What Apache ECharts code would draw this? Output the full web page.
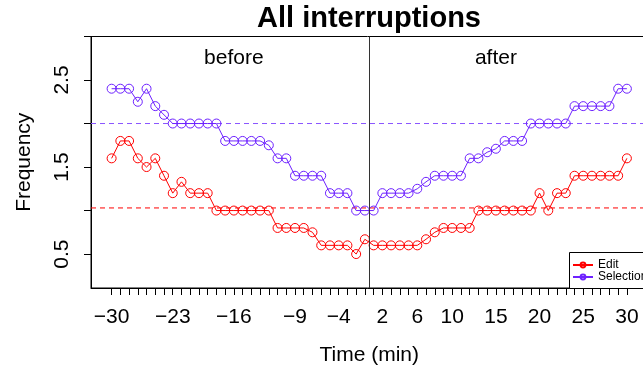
<!DOCTYPE html>
<html>
<head>
<meta charset="utf-8">
<script src="https://cdn.jsdelivr.net/npm/echarts@6/dist/echarts.min.js"></script>
<style>
  html, body { margin: 0; padding: 0; background: #fff; }
  #chart { width: 643px; height: 366px; }
</style>
</head>
<body>
<div id="chart"></div>
<script>
  // minutes around the interruption (no 0 minute), plotted at positions 1..60
  const minutes = [-30, -29, -28, -27, -26, -25, -24, -23, -22, -21, -20, -19, -18, -17, -16,
    -15, -14, -13, -12, -11, -10, -9, -8, -7, -6, -5, -4, -3, -2, -1,
    1, 2, 3, 4, 5, 6, 7, 8, 9, 10, 11, 12, 13, 14, 15,
    16, 17, 18, 19, 20, 21, 22, 23, 24, 25, 26, 27, 28, 29, 30]
  const editFreq = [1.6, 1.8, 1.8, 1.6, 1.5, 1.6, 1.4, 1.2, 1.33, 1.2,
    1.2, 1.2, 1, 1, 1, 1, 1, 1, 1, 0.8,
    0.8, 0.8, 0.8, 0.75, 0.6, 0.6, 0.6, 0.6, 0.5, 0.67,
    0.6, 0.6, 0.6, 0.6, 0.6, 0.6, 0.67, 0.75, 0.8, 0.8,
    0.8, 0.8, 1, 1, 1, 1, 1, 1, 1, 1.2,
    1, 1.2, 1.2, 1.4, 1.4, 1.4, 1.4, 1.4, 1.4, 1.6]
  const selectionFreq = [2.4, 2.4, 2.4, 2.25, 2.4, 2.2, 2.1, 2, 2, 2,
    2, 2, 2, 1.8, 1.8, 1.8, 1.8, 1.8, 1.75, 1.6,
    1.6, 1.4, 1.4, 1.4, 1.4, 1.2, 1.2, 1.2, 1, 1,
    1, 1.2, 1.2, 1.2, 1.2, 1.25, 1.33, 1.4, 1.4, 1.4,
    1.4, 1.6, 1.6, 1.67, 1.71, 1.8, 1.8, 1.8, 2, 2,
    2, 2, 2, 2.2, 2.2, 2.2, 2.2, 2.2, 2.4, 2.4]
  const labelledMinutes = [-30, -23, -16, -9, -4, 2, 6, 10, 15, 20, 25, 30]
  const yTickValues = [0.5, 1, 1.5, 2, 2.5, 3]
  const yLabelValues = [0.5, 1.5, 2.5]
  const editRef = 1.03
  const selectionRef = 2.0
  const phaseNames = ['before', 'after']
  const phaseMinutes = [-16, 15]
  const phaseLevel = 2.75

  const RED = '#FF0000'
  const BLUE = '#6E22FF'
  const BLUE_DASH = '#8A55FF'
  const FONT = 'Liberation Sans, Arial, sans-serif'
  const X_MIN = -1.36
  const X_MAX = 62.36

  const pos = m => minutes.indexOf(m) + 1
  const allPos = minutes.map(pos)
  const splitPos = (pos(-1) + pos(1)) / 2

  const lineSeries = (name, values, color) => ({
    name: name,
    type: 'line',
    data: values.map((v, i) => [i + 1, v]),
    symbol: 'circle',
    symbolSize: 9,
    itemStyle: { color: 'rgba(255,255,255,0)', borderColor: color, borderWidth: 1 },
    lineStyle: { color: color, width: 1 },
    z: 3
  })

  // horizontal dashed reference line across the whole plot
  const refLine = (ref, color) => ({
    name: 'ref' + ref,
    type: 'line',
    data: [[X_MIN, ref], [X_MAX, ref]],
    symbol: 'none',
    silent: true,
    lineStyle: { color: color, type: [5, 4], width: 1 },
    z: 1
  })

  const chart = echarts.init(document.getElementById('chart'))
  chart.setOption({
    animation: false,
    backgroundColor: '#fff',
    textStyle: { fontFamily: FONT },
    title: {
      text: 'All interruptions',
      left: 369,
      textAlign: 'center',
      top: 4,
      padding: 0,
      textStyle: { fontFamily: FONT, fontWeight: 'bold', fontSize: 29, color: '#000' }
    },
    grid: {
      left: 91,
      right: -4.5,
      top: 36.5,
      bottom: 78,
      show: true,
      borderColor: '#000',
      borderWidth: 1,
      outerBoundsMode: 'none'
    },
    xAxis: {
      type: 'value',
      min: X_MIN,
      max: X_MAX,
      name: 'Time (min)',
      nameLocation: 'middle',
      nameGap: 57,
      nameTextStyle: { fontFamily: FONT, fontSize: 21, color: '#000' },
      axisLine: { show: true, onZero: false, lineStyle: { color: '#000' } },
      splitLine: { show: false },
      axisTick: { show: true, inside: false, length: 7, customValues: allPos, lineStyle: { color: '#000' } },
      axisLabel: {
        customValues: labelledMinutes.map(pos),
        margin: 19,
        fontFamily: FONT,
        fontSize: 21,
        color: '#000',
        formatter: v => String(minutes[Math.round(v) - 1]).replace('-', '\u2212')
      }
    },
    yAxis: {
      type: 'value',
      min: 0.11,
      max: 3.0,
      name: 'Frequency',
      nameLocation: 'middle',
      nameGap: 56,
      nameTextStyle: { fontFamily: FONT, fontSize: 21, color: '#000' },
      axisLine: { show: true, onZero: false, lineStyle: { color: '#000' } },
      splitLine: { show: false },
      axisTick: { show: true, inside: false, length: 7, customValues: yTickValues, lineStyle: { color: '#000' } },
      axisLabel: {
        customValues: yLabelValues,
        rotate: 90,
        align: 'center',
        verticalAlign: 'bottom',
        margin: 18,
        fontFamily: FONT,
        fontSize: 21,
        color: '#000',
        formatter: v => v.toFixed(1)
      }
    },
    legend: {
      data: ['Edit', 'Selection'],
      orient: 'vertical',
      left: 572,
      top: 259,
      padding: 0,
      itemWidth: 20,
      itemHeight: 6,
      itemGap: 0,
      textStyle: { fontFamily: FONT, fontSize: 12, lineHeight: 12, color: '#000' },
      z: 20
    },
    graphic: [{
      type: 'rect',
      shape: { x: 569.5, y: 252.5, width: 120, height: 36 },
      style: { fill: '#fff', stroke: '#000', lineWidth: 1 },
      z: 10
    }],
    series: [
      refLine(editRef, RED),
      refLine(selectionRef, BLUE_DASH),
      lineSeries('Edit', editFreq, RED),
      lineSeries('Selection', selectionFreq, BLUE),
      {
        name: 'phases',
        type: 'scatter',
        symbolSize: 0,
        itemStyle: { opacity: 1 },
        data: phaseNames.map((n, i) => ({ name: n, value: [pos(phaseMinutes[i]), phaseLevel] })),
        label: {
          show: true,
          position: 'inside',
          formatter: p => p.name,
          fontFamily: FONT,
          fontSize: 21,
          color: '#000',
          opacity: 1,
          textBorderWidth: 0
        },
        markLine: {
          silent: true,
          symbol: 'none',
          label: { show: false },
          lineStyle: { color: '#333', type: 'solid', width: 1 },
          data: [{ xAxis: splitPos }]
        },
        z: 2
      }
    ]
  })
</script>
</body>
</html>
